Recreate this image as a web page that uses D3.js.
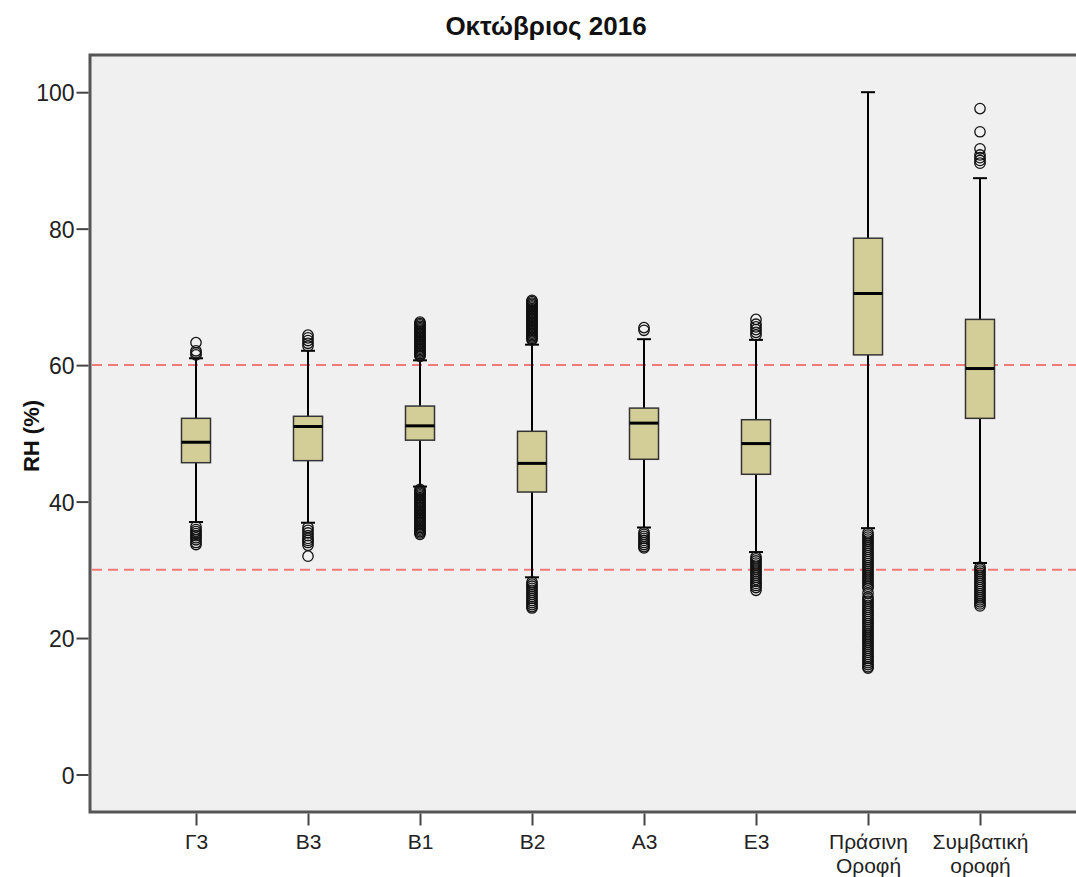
<!DOCTYPE html>
<html><head><meta charset="utf-8">
<script src="https://cdn.jsdelivr.net/npm/d3@7"></script>
<style>body{margin:0;background:#fff;} svg{display:block;}</style>
</head><body>
<svg id="chart" width="1076" height="877"></svg>
<script>
const title = "Οκτώβριος 2016";
const yLabel = "RH (%)";
const categories = ["Γ3","Β3","Β1","Β2","Α3","Ε3","Πράσινη Οροφή","Συμβατική οροφή"];
const labelLines = [["Γ3"],["Β3"],["Β1"],["Β2"],["Α3"],["Ε3"],["Πράσινη","Οροφή"],["Συμβατική","οροφή"]];
const yTicks = [0,20,40,60,80,100];
const refLines = [60,30];
const q1 =          [45.7, 46.0, 49.0, 41.4, 46.2, 44.0, 61.5, 52.2];
const median =      [48.7, 51.0, 51.1, 45.6, 51.5, 48.5, 70.5, 59.5];
const q3 =          [52.2, 52.5, 54.0, 50.3, 53.7, 52.0, 78.6, 66.7];
const whiskerLow =  [37.0, 36.9, 42.2, 28.9, 36.2, 32.6, 36.1, 31.0];
const whiskerHigh = [61.0, 62.1, 60.7, 63.0, 63.8, 63.7, 100.0, 87.4];
const outliersHigh = [
  [61.5, 61.8, 62.1, 63.3],
  [62.8, 63.2, 63.6, 64.0, 64.4],
  [61.3, 61.5, 61.7, 61.9, 62.1, 62.3, 62.5, 62.7, 62.9, 63.1, 63.3, 63.5, 63.7, 63.9, 64.1, 64.3, 64.5, 64.7, 64.9, 65.1, 65.3, 65.5, 65.7, 65.9, 66.1, 66.3],
  [63.7, 63.9, 64.1, 64.3, 64.5, 64.7, 64.9, 65.1, 65.3, 65.5, 65.7, 65.9, 66.1, 66.3, 66.5, 66.7, 66.9, 67.1, 67.3, 67.5, 67.7, 67.9, 68.1, 68.3, 68.5, 68.7, 68.9, 69.1, 69.3, 69.5],
  [65.1, 65.5],
  [64.4, 64.8, 65.2, 65.6, 66.0, 66.7],
  [],
  [89.6, 90.0, 90.4, 90.8, 91.7, 94.2, 97.6]
];
const outliersLow = [
  [36.3, 35.9, 35.6, 35.3, 35.0, 34.7, 34.4, 34.0, 33.7],
  [36.2, 35.8, 35.4, 35.0, 34.6, 34.3, 34.0, 33.6, 32.0],
  [41.8, 41.6, 41.4, 41.2, 41.0, 40.8, 40.6, 40.4, 40.2, 40.0, 39.8, 39.6, 39.4, 39.2, 39.0, 38.8, 38.6, 38.4, 38.2, 38.0, 37.8, 37.6, 37.4, 37.2, 37.0, 36.8, 36.6, 36.4, 36.2, 36.0, 35.8, 35.6, 35.4, 35.2],
  [28.2, 27.9, 27.6, 27.3, 27.0, 26.7, 26.4, 26.1, 25.8, 25.5, 25.2, 24.9, 24.6, 24.4],
  [35.5, 35.2, 34.9, 34.6, 34.3, 34.0, 33.7, 33.4, 33.2],
  [31.9, 31.6, 31.3, 31.0, 30.7, 30.4, 30.1, 29.8, 29.5, 29.2, 28.9, 28.6, 28.3, 28.0, 27.7, 27.4, 27.0],
  [35.4, 35.1, 34.8, 34.5, 34.2, 33.9, 33.6, 33.3, 33.0, 32.7, 32.4, 32.1, 31.8, 31.5, 31.2, 30.9, 30.6, 30.3, 30.0, 29.7, 29.4, 29.1, 28.8, 28.5, 28.2, 27.9, 27.6, 27.3, 26.6, 26.0, 25.7, 25.4, 25.1, 24.8, 24.5, 24.2, 23.9, 23.6, 23.3, 23.0, 22.7, 22.4, 22.1, 21.8, 21.5, 21.2, 20.9, 20.6, 20.3, 20.0, 19.7, 19.4, 19.1, 18.8, 18.5, 18.2, 17.9, 17.6, 17.3, 17.0, 16.7, 16.4, 16.1, 15.8, 15.6],
  [30.4, 30.1, 29.8, 29.5, 29.2, 28.9, 28.6, 28.3, 28.0, 27.7, 27.4, 27.1, 26.8, 26.5, 26.2, 25.9, 25.6, 25.3, 25.0, 24.7]
];

const svg = d3.select("#chart");
const plot = {left: 90, top: 55, right: 1092, bottom: 812};
const font = "'Liberation Sans', Arial, sans-serif";

const y = d3.scaleLinear().domain([0, 100]).range([774.5, 92.2]);
const x = d3.scalePoint().domain(categories).range([196, 980]);
const boxW = 29, capW = 14;

// plot background frame
svg.append("rect").attr("x", plot.left).attr("y", plot.top)
  .attr("width", plot.right - plot.left).attr("height", plot.bottom - plot.top)
  .attr("fill", "#f0f0f0").attr("stroke", "#555").attr("stroke-width", 3);

// reference lines
svg.append("g").selectAll("line").data(refLines).join("line")
  .attr("x1", plot.left + 2).attr("x2", plot.right)
  .attr("y1", d => y(d)).attr("y2", d => y(d))
  .attr("stroke", "#f07a7a").attr("stroke-width", 2).attr("stroke-dasharray", "10,6");

// y axis
const yAxis = svg.append("g").attr("transform", `translate(${plot.left - 1.5},0)`)
  .call(d3.axisLeft(y).tickValues(yTicks).tickSize(12).tickPadding(2));
yAxis.select(".domain").remove();
yAxis.selectAll(".tick line").attr("stroke", "#444").attr("stroke-width", 2);
yAxis.selectAll(".tick text").attr("font-family", font).attr("font-size", 23)
  .attr("fill", "#222").attr("dy", "0.38em");

// x axis
const xAxis = svg.append("g").attr("transform", `translate(0,${plot.bottom + 1.5})`)
  .call(d3.axisBottom(x).tickSize(12).tickFormat(""));
xAxis.select(".domain").remove();
xAxis.selectAll(".tick line").attr("stroke", "#444").attr("stroke-width", 2);
xAxis.selectAll(".tick").each(function(d, i) {
  const t = d3.select(this).append("text").attr("text-anchor", "middle")
    .attr("font-family", font).attr("font-size", 21).attr("fill", "#222");
  labelLines[i].forEach((ln, j) => {
    t.append("tspan").attr("x", 0).attr("y", 35 + j * 24).text(ln);
  });
});

// boxes
const data = categories.map((c, i) => ({c, i}));
const g = svg.append("g");
const box = g.selectAll("g.box").data(data).join("g").attr("class", "box")
  .attr("transform", d => `translate(${x(d.c)},0)`);
// whiskers
box.append("line").attr("x1", 0).attr("x2", 0)
  .attr("y1", d => y(q3[d.i])).attr("y2", d => y(whiskerHigh[d.i]))
  .attr("stroke", "#000").attr("stroke-width", 2);
box.append("line").attr("x1", 0).attr("x2", 0)
  .attr("y1", d => y(q1[d.i])).attr("y2", d => y(whiskerLow[d.i]))
  .attr("stroke", "#000").attr("stroke-width", 2);
// caps
box.append("line").attr("x1", -capW/2).attr("x2", capW/2)
  .attr("y1", d => y(whiskerHigh[d.i])).attr("y2", d => y(whiskerHigh[d.i]))
  .attr("stroke", "#000").attr("stroke-width", 2);
box.append("line").attr("x1", -capW/2).attr("x2", capW/2)
  .attr("y1", d => y(whiskerLow[d.i])).attr("y2", d => y(whiskerLow[d.i]))
  .attr("stroke", "#000").attr("stroke-width", 2);
// box rect
box.append("rect").attr("x", -boxW/2).attr("width", boxW)
  .attr("y", d => y(q3[d.i])).attr("height", d => y(q1[d.i]) - y(q3[d.i]))
  .attr("fill", "#d3ce97").attr("stroke", "#333").attr("stroke-width", 1.5);
// median
box.append("line").attr("x1", -boxW/2).attr("x2", boxW/2)
  .attr("y1", d => y(median[d.i])).attr("y2", d => y(median[d.i]))
  .attr("stroke", "#000").attr("stroke-width", 3);
// outliers
box.each(function(d) {
  const pts = outliersHigh[d.i].concat(outliersLow[d.i]);
  d3.select(this).selectAll("circle").data(pts).join("circle")
    .attr("cx", 0).attr("cy", v => y(v)).attr("r", 5.2)
    .attr("fill", "none").attr("stroke", "#111").attr("stroke-width", 1.3);
});

// title
svg.append("text").attr("x", 546).attr("y", 35).attr("text-anchor", "middle")
  .attr("font-family", font).attr("font-weight", "bold").attr("font-size", 26)
  .attr("fill", "#111").text(title);
// y label
svg.append("text").attr("transform", "translate(39,436) rotate(-90)")
  .attr("text-anchor", "middle").attr("font-family", font).attr("font-weight", "bold")
  .attr("font-size", 22).attr("fill", "#111").text(yLabel);
</script>
</body></html>
